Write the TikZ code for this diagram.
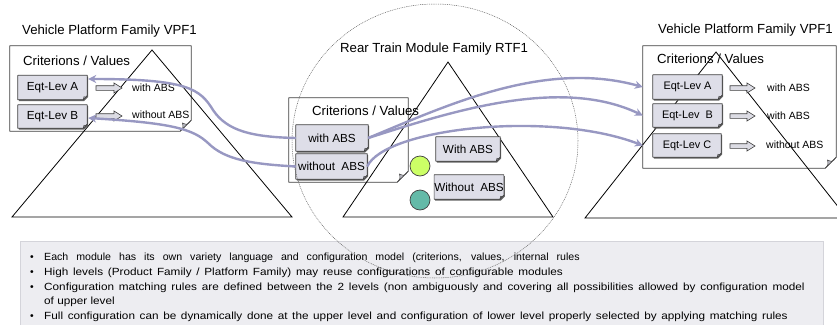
\documentclass[tikz,border=0pt]{standalone}
\usepackage{graphicx}
\usepackage{fontspec}
\setmainfont{Liberation Sans}
\usetikzlibrary{arrows.meta,calc}

\pgfdeclarelayer{back}
\pgfdeclarelayer{mid}
\pgfdeclarelayer{valbg}
\pgfsetlayers{back,mid,valbg,main}

\definecolor{edgecol}{RGB}{64,64,64}
\definecolor{valfill}{RGB}{222,222,232}
\definecolor{foldcol}{RGB}{185,185,195}
\definecolor{conncol}{RGB}{152,152,194}
\definecolor{panelfill}{RGB}{237,237,241}
\definecolor{panelline}{RGB}{212,212,218}
\definecolor{limecol}{RGB}{204,255,102}
\definecolor{tealcol}{RGB}{100,186,168}
\definecolor{blockfill}{RGB}{220,220,228}

% outline of a sheet with its lower right corner cut off
\newcommand\notefill[5]{%
  \path[#5] ([xshift=#3,yshift=#4]#1.north west) -- ([xshift=#3,yshift=#4]#1.north east)
    -- ([xshift=#3,yshift=#4+#2]#1.south east) -- ([xshift=#3-#2,yshift=#4]#1.south east)
    -- ([xshift=#3,yshift=#4]#1.south west) -- cycle;}
% the folded flap in that corner
\newcommand\noteflap[2]{%
  \filldraw[fill=foldcol, draw=edgecol, line width=0.5pt, line join=round]
    ([yshift=#2]#1.south east)
    .. controls ([xshift=-0.35*#2, yshift=0.55*#2]#1.south east) .. ([xshift=-0.8*#2, yshift=0.75*#2]#1.south east)
    .. controls ([xshift=-0.7*#2, yshift=0.35*#2]#1.south east) .. ([xshift=-#2]#1.south east) -- cycle;}
% a criterion sheet: white, below the triangles
\newcommand\critsheet[1]{%
  \begin{pgfonlayer}{back}
    \notefill{#1}{11pt}{0pt}{0pt}{fill=white, draw=edgecol, line width=0.8pt, line join=round}
    \noteflap{#1}{11pt}
  \end{pgfonlayer}}
% a value card: grey with a shadow, above the triangles
\newcommand\valcard[1]{%
  \begin{pgfonlayer}{valbg}
    \notefill{#1}{4pt}{1pt}{-1.3pt}{fill=black!60}
    \notefill{#1}{4pt}{0pt}{0pt}{fill=valfill, draw=edgecol, line width=0.7pt, line join=round}
    \noteflap{#1}{4pt}
  \end{pgfonlayer}}
% hollow block arrow from x=#1 to x=#2 at height #3
\newcommand\blockarrow[3]{%
  \filldraw[fill=blockfill, draw=edgecol, line width=0.6pt, line join=miter]
    (#1,#3-2.3) -- (#2-8,#3-2.3) -- (#2-8,#3-5) -- (#2,#3) -- (#2-8,#3+5)
    -- (#2-8,#3+2.3) -- (#1,#3+2.3) -- cycle;}
% one line of the notes: widened glyphs, spaces spread to the given width
\newcommand\noteline[3]{\scalebox{#1}[1]{\makebox[#2][s]{#3}}}

\tikzset{
  title/.style={anchor=west, inner sep=0pt, font=\fontsize{13.2}{15}\selectfont},
  crit/.style={inner sep=0pt},
  crittext/.style={anchor=west, inner sep=0pt, font=\fontsize{13.2}{15}\selectfont},
  valbox/.style={inner sep=0pt, font=\fontsize{11.7}{13}\selectfont},
  smallval/.style={inner sep=0pt, font=\fontsize{10.9}{12}\selectfont},
  lbl/.style={anchor=west, inner sep=0pt, font=\fontsize{10.5}{12}\selectfont},
  tri/.style={draw=black, line width=0.8pt, line join=miter},
  conn/.style={draw=conncol, line width=2.4pt, -{Stealth[length=8pt,width=8pt]}},
  dot/.style={circle, draw=edgecol, line width=0.7pt, minimum size=20pt, inner sep=0pt},
  note/.style={anchor=base west, inner sep=0pt, font=\fontsize{10.4}{12}\selectfont},
  bullet/.style={anchor=base west, inner sep=0pt, font=\fontsize{10.4}{12}\selectfont},
}

\begin{document}
\begin{tikzpicture}[x=1pt,y=-1pt]
\useasboundingbox (0,0) rectangle (837,324);

% notes panel at the bottom
\begin{pgfonlayer}{back}
  \node[anchor=north west, minimum width=803pt, minimum height=95pt, inner sep=0pt,
        fill=panelfill, draw=panelline, line width=0.6pt] (panel) at (20,241) {};
\end{pgfonlayer}

% family titles
\node[title] (tleft)  at (22,31) {Vehicle Platform Family VPF1};
\node[title] (tmid)   at (340,49) {Rear Train Module Family RTF1};
\node[title] (tright) at (658,30) {Vehicle Platform Family VPF1};

% criterion sheets
\node[crit, minimum width=181pt, minimum height=85pt] (lcrit) at (100.5,88.5) {};
\node[crit, minimum width=119pt, minimum height=84pt] (mcrit) at (348.5,140) {};
\node[crit, minimum width=193pt, minimum height=122pt] (rcrit) at (739.5,107) {};
\critsheet{lcrit}
\critsheet{mcrit}
\critsheet{rcrit}
\node[crittext] (lcrith) at (23,61) {Criterions / Values};
\node[crittext] (mcrith) at (312,111) {Criterions / Values};
\node[crittext] (rcrith) at (657,59) {Criterions / Values};

% family triangles
\begin{pgfonlayer}{mid}
  \draw[tri] (152,50) -- (12,217) -- (292,217) -- cycle;
  \draw[tri] (448,62) -- (343,217) -- (553,217) -- cycle;
  \draw[tri] (716,52) -- (585,218) -- (847,218) -- cycle;
\end{pgfonlayer}

% left platform values
\node[valbox, minimum width=69pt, minimum height=24pt] (la) at (52.5,87.5) {Eqt-Lev A};
\node[valbox, minimum width=69pt, minimum height=23pt] (lb) at (52.5,116.5) {Eqt-Lev B};
\valcard{la}
\valcard{lb}
\blockarrow{96}{122}{88}
\blockarrow{96}{122}{116}
\node[lbl] (lwa)  at (132,88)  {with ABS};
\node[lbl] (lwoa) at (132,115) {without ABS};

% rear train module values
\node[valbox, minimum width=72pt, minimum height=26pt] (cw)  at (332,138)   {with ABS};
\node[valbox, minimum width=71pt, minimum height=25pt] (cwo) at (331.5,166.5) {without\hspace{3pt} ABS};
\node[valbox, minimum width=64pt, minimum height=24pt] (mw)  at (468,149)   {With ABS};
\node[valbox, minimum width=64pt, minimum height=24pt] (mwo) at (469,187)   {Without\hspace{3pt} ABS};
\valcard{cw}
\valcard{cwo}
\valcard{mw}
\valcard{mwo}
\node[dot, fill=limecol] (glime) at (420,166) {};
\node[dot, fill=tealcol] (gteal) at (420,200) {};

% right platform values
\node[smallval, minimum width=69pt, minimum height=24pt] (ra) at (687.5,87)   {Eqt-Lev A};
\node[smallval, minimum width=69pt, minimum height=23pt] (rb) at (687.5,115.5) {Eqt-Lev\hspace{3pt} B};
\node[smallval, minimum width=68pt, minimum height=23pt] (rc) at (687,145.5)   {Eqt-Lev C};
\valcard{ra}
\valcard{rb}
\valcard{rc}
\blockarrow{730}{755}{88}
\blockarrow{730}{755}{116}
\blockarrow{730}{755}{146}
\node[lbl] (rwa)  at (767,88)  {with ABS};
\node[lbl] (rwb)  at (767,116) {with ABS};
\node[lbl] (rwoc) at (766,145) {without ABS};

% module boundary
\draw[gray!75!black, line width=0.5pt, dash pattern=on 0.9pt off 0.9pt]
  (435,141) ellipse [x radius=143pt, y radius=137pt];

% configuration matching links
\draw[conn] (cw.west) .. controls (252,137) and (227,131) .. (213,110)
  .. controls (200,89) and (188,79) .. ($(la.east)+(1,-8.5)$);
\draw[conn] (cwo.west) .. controls (252,164) and (225,160) .. (208,143)
  .. controls (193,129) and (172,123) .. ($(lb.east)+(1,1.5)$);
\draw[conn] (cw.east) .. controls (450,104) and (545,60) .. (rcrit.west |- ra.west);
\draw[conn] (cw.east) .. controls (450,112) and (560,76) .. (rcrit.west |- rb.west);
\draw[conn] (cwo.east) .. controls (385,128) and (550,110) .. (rcrit.west |- rc.west);

% notes
\node[bullet] (b1) at (30,260) {•};
\node[bullet] (b2) at (30,275) {•};
\node[bullet] (b3) at (30,290) {•};
\node[bullet] (b4) at (30,319) {•};
\node[note] (n1) at (44,260) {\noteline{1.02}{525pt}{Each module has its own variety language and configuration model (criterions, values, internal rules}};
\node[note] (n2) at (44,275) {\noteline{1.13}{459pt}{High levels (Product Family / Platform Family) may reuse configurations of configurable modules}};
\node[note] (n3) at (44,290) {\noteline{1.13}{673pt}{Configuration matching rules are defined between the 2 levels (non ambiguously and covering all possibilities allowed by configuration model}};
\node[note] (n3b) at (44,304) {\scalebox{1.13}[1]{of upper level}};
\node[note] (n4) at (44,319) {\noteline{1.13}{658pt}{Full configuration can be dynamically done at the upper level and configuration of lower level properly selected by applying matching rules}};
\end{tikzpicture}
\end{document}
